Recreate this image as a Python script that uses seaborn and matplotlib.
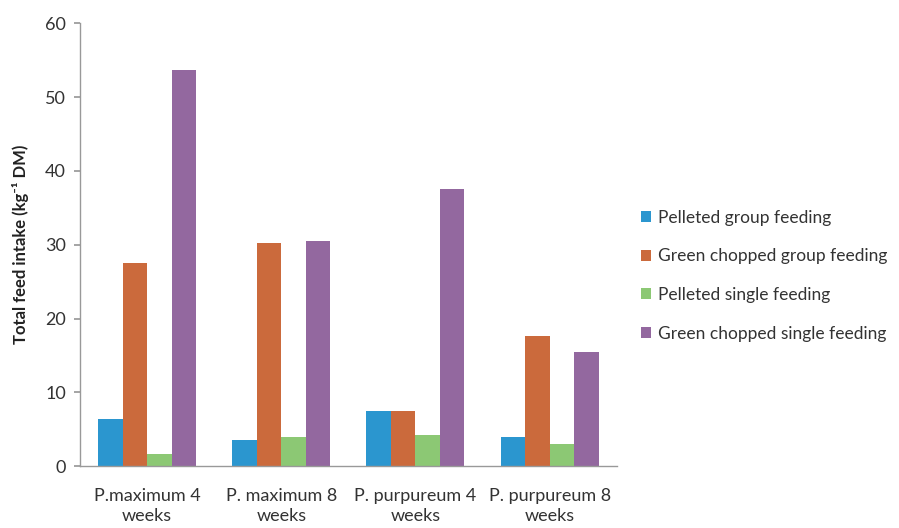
import matplotlib
matplotlib.use("Agg")
import matplotlib.pyplot as plt
import seaborn as sns
import pandas as pd

categories = ["P.maximum 4\nweeks", "P. maximum 8\nweeks", "P. purpureum 4\nweeks", "P. purpureum 8\nweeks"]
series_names = ["Pelleted group feeding", "Green chopped group feeding",
                "Pelleted single feeding", "Green chopped single feeding"]
pelleted_group = [6.4, 3.6, 7.5, 4.0]
green_group = [27.5, 30.3, 7.5, 17.6]
pelleted_single = [1.6, 3.9, 4.2, 3.05]
green_single = [53.7, 30.5, 37.5, 15.5]
colors = ["#2B96CF", "#CB6A3C", "#8CC874", "#93689F"]

rows = []
for name, vals in zip(series_names, [pelleted_group, green_group, pelleted_single, green_single]):
    for c, v in zip(categories, vals):
        rows.append({"cat": c, "series": name, "val": v})
df = pd.DataFrame(rows)

sns.set_theme(style="white")
plt.rcParams["font.family"] = ["Lato", "DejaVu Sans"]

fig = plt.figure(figsize=(8.99, 5.28), dpi=100)
ax = fig.add_axes([0.089, 0.117, 0.597, 0.839])
sns.barplot(data=df, x="cat", y="val", hue="series", palette=colors,
            width=0.73, saturation=1, ax=ax, errorbar=None, linewidth=0)

ax.set_ylim(0, 60)
ax.set_yticks(range(0, 61, 10))
ax.set_xlim(-0.5, 3.5)
ax.set_xlabel("")
ax.set_ylabel("Total feed intake (kg⁻¹ DM)", fontsize=12, fontweight="bold", color="#222222", labelpad=12)
ax.tick_params(axis="y", labelsize=13, colors="#333333", length=4, direction="out", left=True, color="#999999", pad=6)
ax.tick_params(axis="x", labelsize=13, colors="#333333", length=0, pad=16)
for lab in ax.get_xticklabels():
    lab.set_linespacing(1.3)
for s in ["top", "right"]:
    ax.spines[s].set_visible(False)
for s in ["left", "bottom"]:
    ax.spines[s].set_color("#999999")
    ax.spines[s].set_linewidth(1)

handles, labels = ax.get_legend_handles_labels()
ax.legend(handles, labels, loc="center left", bbox_to_anchor=(1.045, 0.43), frameon=False,
          fontsize=12.5, handlelength=0.6, handleheight=0.6, handletextpad=0.4,
          labelspacing=1.3, labelcolor="#333333", borderaxespad=0, borderpad=0)

fig.savefig("out.png", dpi=100)
